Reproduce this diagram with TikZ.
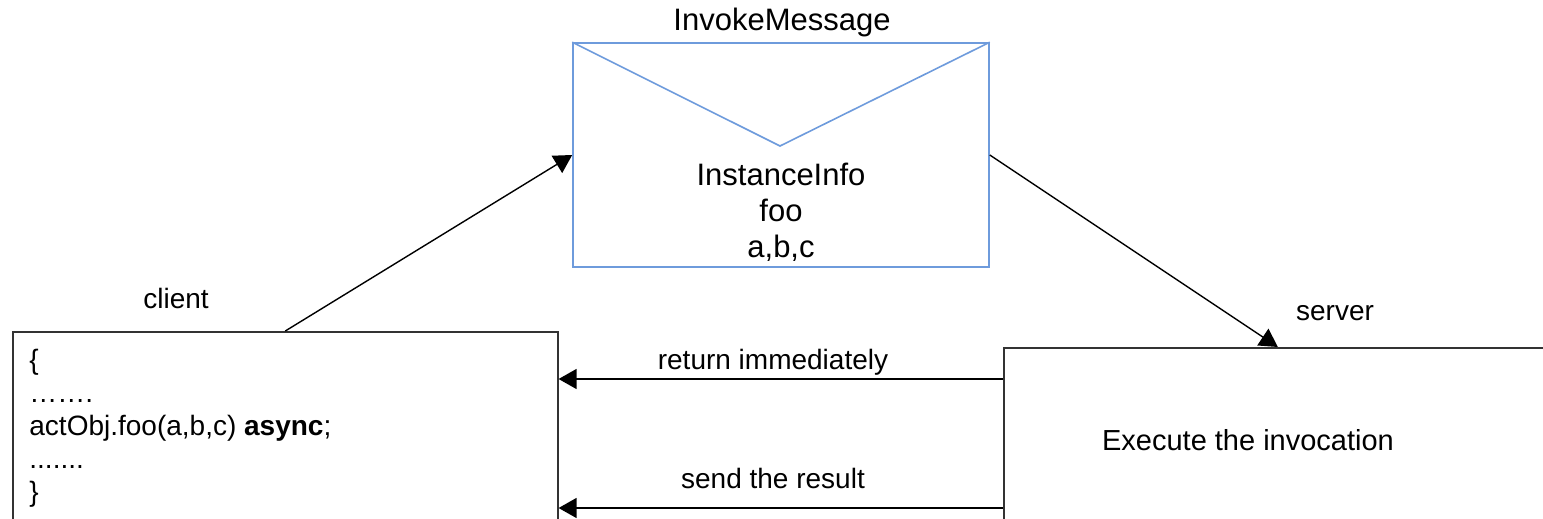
\documentclass[tikz,border=0pt]{standalone}
\usepackage{fontspec}
\setmainfont{Liberation Sans}
\usetikzlibrary{arrows.meta,positioning}
\definecolor{envblue}{RGB}{110,155,220}
\newcommand{\msgfont}{\fontsize{15.5}{18}\selectfont}
\newcommand{\codefont}{\fontsize{14}{16.5}\selectfont}
\newcommand{\srvfont}{\fontsize{14.5}{17}\selectfont}
\tikzset{
  box/.style={draw=black!80, line width=0.8pt, anchor=north west, inner sep=0pt},
  envelope/.style={draw=envblue, line width=0.8pt, minimum width=208pt, minimum height=112pt, inner sep=0pt},
  flow/.style={-{Triangle[length=9pt,width=10pt]}, line width=0.7pt},
  lbl/.style={font=\codefont, inner sep=0pt},
}

\begin{document}
\begin{tikzpicture}[x=0.5pt, y=-0.5pt]
    \useasboundingbox (0,0) rectangle (1543,519);
    \clip (0,0) rectangle (1543,519);

    %the message
    \node [envelope] (msg) at (781,155) {};
    \coordinate (vtip) at (780,146);
    \draw [envblue, line width=0.8pt] (msg.north west) -- (vtip) -- (msg.north east);
    \node [lbl, font=\msgfont] (msglabel) at (782,22) {InvokeMessage};
    \node [lbl, font=\msgfont, align=center] (msgtext) at (781,212) {InstanceInfo\\foo\\a,b,c};

    %for client
    \node [box, minimum width=272.5pt, minimum height=105pt] (client) at (12,331) {};
    \node [lbl] (clientlabel) at (176,298) {client};
    \node [lbl, anchor=west, align=left] (code) at (29,428)
        {\{\\…….\\actObj.foo(a,b,c) \textbf{async};\\.......\\\}};

    %for server
    \node [box, minimum width=274pt, minimum height=100pt] (server) at (1003,347) {};
    \node [lbl] (serverlabel) at (1335,313) {server};
    \node [lbl, font=\srvfont] (exec) at (1248,440) {Execute the invocation};

    %connectors
    \draw [flow] (client.north) -- (msg.west);
    \draw [flow] (msg.east) -- (server.north);
    \draw [flow] (server.west |- 0,379) -- (client.east |- 0,379);
    \node [lbl] (ret) at (773,362) {return immediately};
    \draw [flow] (server.west |- 0,508) -- (client.east |- 0,508);
    \node [lbl] (res) at (773,478) {send the result};
\end{tikzpicture}
\end{document}
